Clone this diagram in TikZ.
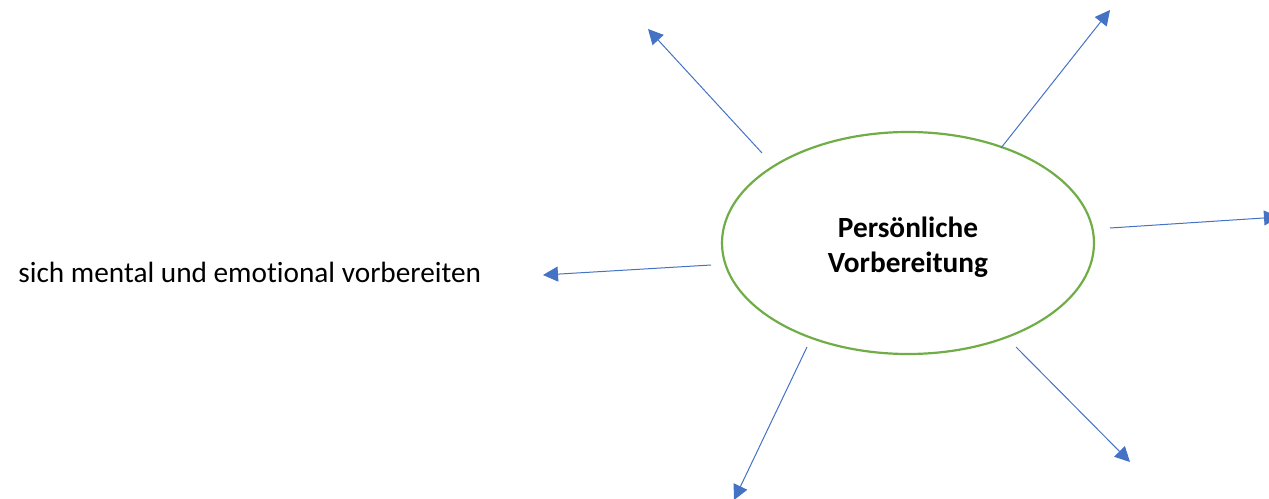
\documentclass[tikz,border=0pt]{standalone}
\usepackage{fontspec}
\setmainfont{Carlito}[Ligatures=NoCommon]
\usetikzlibrary{arrows.meta,shapes.geometric}
\definecolor{ogreen}{HTML}{70AD47}
\definecolor{oblue}{HTML}{4472C4}
\tikzset{%
    ell/.style={ellipse, draw=ogreen, line width=1.1pt, minimum width=186pt, minimum height=111pt, inner sep=0pt, align=center, font=\fontsize{14.65}{17.5}\selectfont\bfseries},
    pra/.style={draw=oblue, line width=0.5pt, -{Triangle[length=7.5pt, width=7.5pt]}, color=oblue},
    txt/.style={inner sep=0pt, font=\fontsize{14.65}{17}\selectfont},
}
\begin{document}
\begin{tikzpicture}[x=0.5pt, y=-0.5pt]
    \useasboundingbox (0,0) rectangle (1269,498);
    \node[ell] (V) at (908,243) {};
    \node[txt, align=center, font=\fontsize{14.65}{17.5}\selectfont\bfseries] (T) at (908,247) {Persönliche\\Vorbereitung};
    \node[txt, anchor=base west] (L) at (18,282) {sich mental und emotional vorbereiten};
    \coordinate (s1) at (762,153); \coordinate (e1) at (648,29);
    \coordinate (s2) at (1001,148); \coordinate (e2) at (1110,10);
    \coordinate (s3) at (1110,228); \coordinate (e3) at (1279,217);
    \coordinate (s4) at (711,265); \coordinate (e4) at (543,275);
    \coordinate (s5) at (807,347); \coordinate (e5) at (734,500);
    \coordinate (s6) at (1016,347); \coordinate (e6) at (1130,462);
    \foreach \i in {1,...,6}
        \draw [pra](s\i)--(e\i);
\end{tikzpicture}
\end{document}
